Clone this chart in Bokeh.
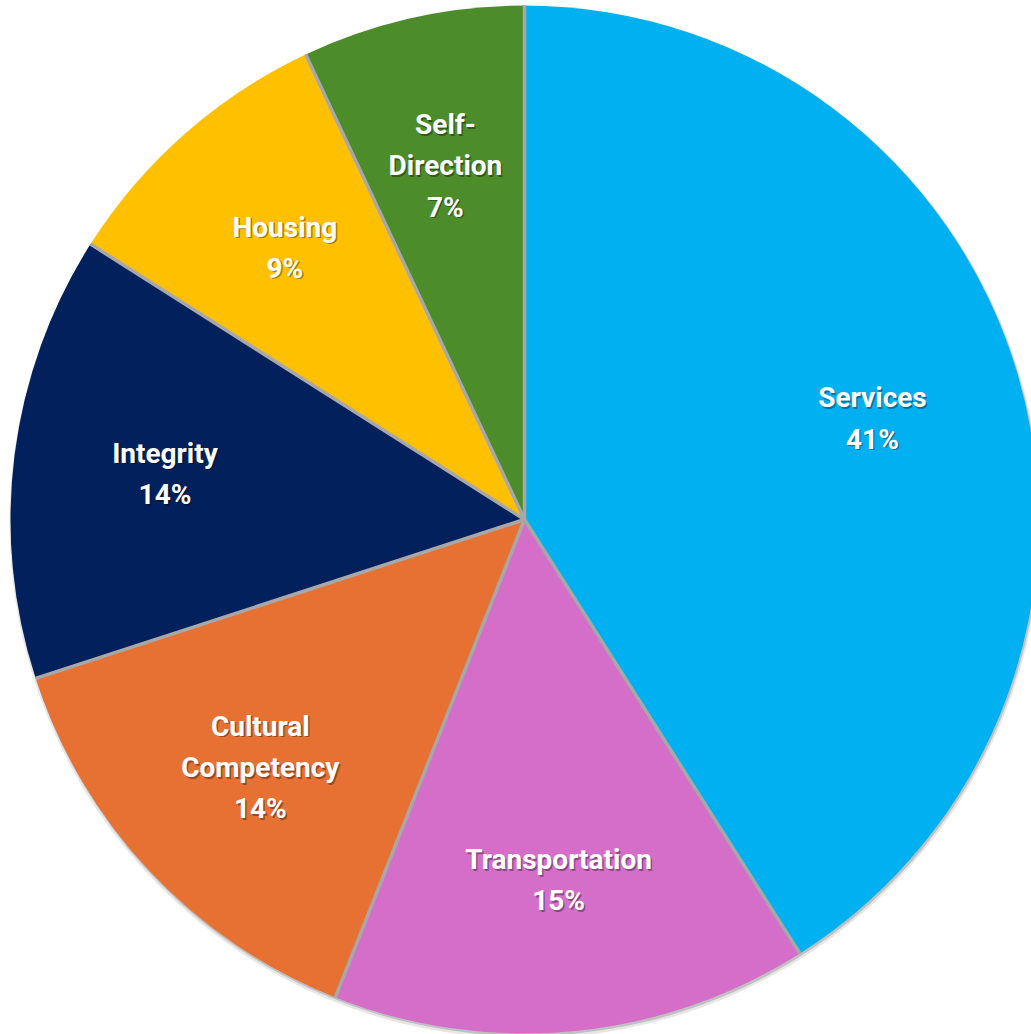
import math
from bokeh.plotting import figure
from bokeh.models import ColumnDataSource, Range1d
from bokeh.embed import file_html
from bokeh.resources import INLINE
from bokeh.core.properties import value

categories = ["Services", "Transportation", "Cultural\nCompetency", "Integrity", "Housing", "Self-\nDirection"]
percents = [41, 15, 14, 14, 9, 7]
colors = ["#00B0F0", "#D56EC8", "#E77133", "#02205B", "#FFC000", "#4C8C2B"]

W, H = 1031, 1034
cx, cy, R = 524, 519, 514

total = sum(percents)
starts, ends, lx, ly, labels = [], [], [], [], []
cum = 0.0
for c, v in zip(categories, percents):
    a0 = math.pi / 2 - 2 * math.pi * cum / total
    cum += v
    a1 = math.pi / 2 - 2 * math.pi * cum / total
    starts.append(a0)
    ends.append(a1)
    mid = (a0 + a1) / 2
    lx.append(0.705 * R * math.cos(mid))
    ly.append(0.705 * R * math.sin(mid))
    labels.append(f"{c}\n{v}%")

n = len(percents)
src = ColumnDataSource(dict(start=starts, end=ends, color=colors, x=lx, y=ly, label=labels,
                            cx=[0] * n, cy=[0] * n))

p = figure(width=W, height=H, output_backend="svg", toolbar_location=None,
           x_range=Range1d(-cx, W - cx), y_range=Range1d(-(H - cy), cy),
           min_border=0, match_aspect=False)
p.axis.visible = False
p.grid.visible = False
p.outline_line_color = None
p.background_fill_color = "white"
p.border_fill_color = "white"

# soft shadow
p.circle(x=[1], y=[-3], radius=R + 2, fill_color="#9a9a9a", fill_alpha=0.25, line_color=None)
p.circle(x=[1], y=[-2], radius=R + 0.5, fill_color="#777777", fill_alpha=0.35, line_color=None)

p.wedge(x="cx", y="cy", radius=R, start_angle="start", end_angle="end", direction="clock",
        fill_color="color", line_color=None, source=src)
p.ray(x="cx", y="cy", length=R, angle="start", line_color="#A8A8A8", line_width=3.5, source=src)

common = dict(text="label", text_align="center", text_baseline="middle",
              text_font=value("Roboto"), text_font_style="bold", text_font_size="28px",
              text_line_height=1.25, source=src)
p.text(x="x", y="y", x_offset=1.5, y_offset=1.5, text_color="#000000", text_alpha=0.35, **common)
p.text(x="x", y="y", text_color="white", **common)

open("out.html", "w").write(file_html(p, INLINE))
